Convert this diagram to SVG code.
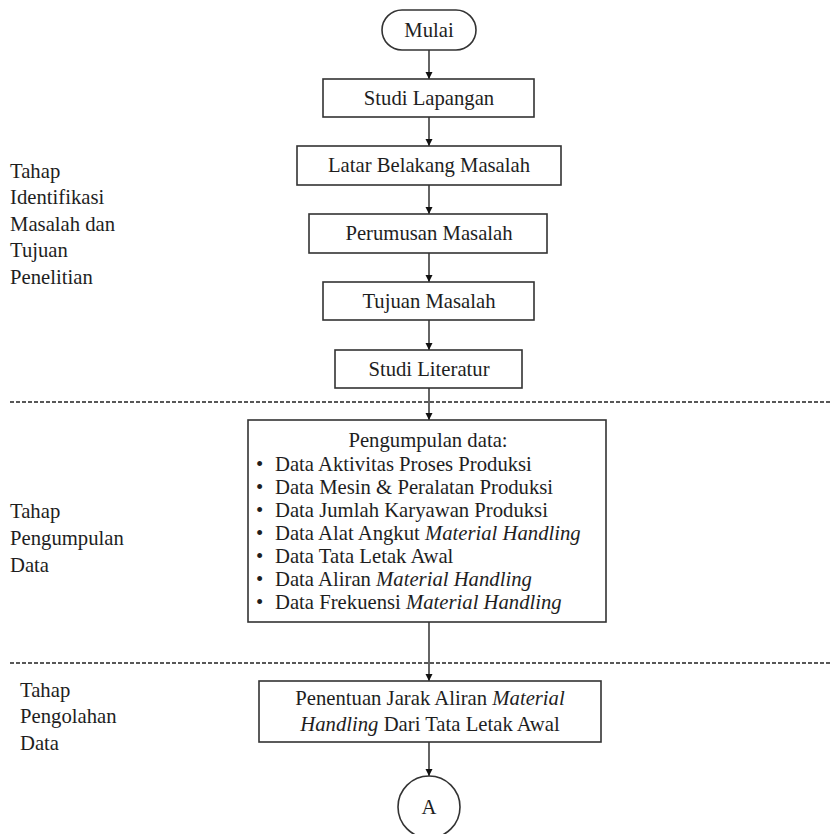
<svg xmlns="http://www.w3.org/2000/svg" width="831" height="834" viewBox="0 0 831 834">
  <style>
    text { font-family: "Liberation Serif", "DejaVu Serif", serif; font-size: 20.7px; fill: #1e1e1e; }
    .c { text-anchor: middle; }
    .it { font-style: italic; }
    .box { fill: #fff; stroke: #333; stroke-width: 1.6; }
    .flow { stroke: #111; stroke-width: 1.3; fill: none; marker-end: url(#arrow); }
    .sep { stroke: #222; stroke-width: 1.3; stroke-dasharray: 4 2; fill: none; }
  </style>
  <defs>
    <marker id="arrow" viewBox="0 0 10 10" refX="10" refY="5" markerWidth="7" markerHeight="8" markerUnits="userSpaceOnUse" orient="auto">
      <path d="M0,0 L10,5 L0,10 Z" fill="#111"/>
    </marker>
  </defs>
  <rect width="831" height="834" fill="#fff"/>

  <!-- stage separators -->
  <g id="separators">
    <line class="sep" x1="10" y1="402" x2="831" y2="402"/>
    <line class="sep" x1="10" y1="663" x2="831" y2="663"/>
  </g>

  <!-- stage labels -->
  <g id="stage-1">
    <text x="10" y="178">Tahap</text>
    <text x="10" y="204">Identifikasi</text>
    <text x="10" y="231">Masalah dan</text>
    <text x="10" y="257">Tujuan</text>
    <text x="10" y="284">Penelitian</text>
  </g>
  <g id="stage-2">
    <text x="10" y="518">Tahap</text>
    <text x="10" y="545">Pengumpulan</text>
    <text x="10" y="572">Data</text>
  </g>
  <g id="stage-3">
    <text x="20" y="697">Tahap</text>
    <text x="20" y="723">Pengolahan</text>
    <text x="20" y="750">Data</text>
  </g>

  <!-- connectors -->
  <g id="connectors">
    <line class="flow" x1="429" y1="50" x2="429" y2="79"/>
    <line class="flow" x1="429" y1="117" x2="429" y2="146"/>
    <line class="flow" x1="429" y1="185" x2="429" y2="214"/>
    <line class="flow" x1="429" y1="253" x2="429" y2="282"/>
    <line class="flow" x1="429" y1="320" x2="429" y2="350"/>
    <line class="flow" x1="429" y1="388" x2="429" y2="420"/>
    <line class="flow" x1="429" y1="622" x2="429" y2="681"/>
    <line class="flow" x1="429" y1="742" x2="429" y2="776"/>
  </g>

  <g id="mulai">
    <rect class="box" x="382" y="10" width="94" height="40" rx="20" ry="20"/>
    <text class="c" x="429" y="37">Mulai</text>
  </g>
  <g id="studi-lapangan">
    <rect class="box" x="323" y="79" width="211" height="38"/>
    <text class="c" x="429" y="105">Studi Lapangan</text>
  </g>
  <g id="latar-belakang">
    <rect class="box" x="297" y="146" width="264" height="39"/>
    <text class="c" x="429" y="172">Latar Belakang Masalah</text>
  </g>
  <g id="perumusan-masalah">
    <rect class="box" x="309" y="214" width="238" height="39"/>
    <text class="c" x="429" y="240">Perumusan Masalah</text>
  </g>
  <g id="tujuan-masalah">
    <rect class="box" x="323" y="282" width="211" height="38"/>
    <text class="c" x="429" y="308">Tujuan Masalah</text>
  </g>
  <g id="studi-literatur">
    <rect class="box" x="335" y="350" width="187" height="38"/>
    <text class="c" x="429" y="376">Studi Literatur</text>
  </g>

  <g id="pengumpulan-data">
    <rect class="box" x="248" y="420" width="358" height="202"/>
    <text class="c" x="428" y="447">Pengumpulan data:</text>
    <g>
      <text x="256" y="471">•</text><text x="275" y="471">Data Aktivitas Proses Produksi</text>
      <text x="256" y="494">•</text><text x="275" y="494">Data Mesin &amp; Peralatan Produksi</text>
      <text x="256" y="517">•</text><text x="275" y="517">Data Jumlah Karyawan Produksi</text>
      <text x="256" y="540">•</text><text x="275" y="540">Data Alat Angkut <tspan class="it">Material Handling</tspan></text>
      <text x="256" y="563">•</text><text x="275" y="563">Data Tata Letak Awal</text>
      <text x="256" y="586">•</text><text x="275" y="586">Data Aliran <tspan class="it">Material Handling</tspan></text>
      <text x="256" y="609">•</text><text x="275" y="609">Data Frekuensi <tspan class="it">Material Handling</tspan></text>
    </g>
  </g>

  <g id="penentuan-jarak">
    <rect class="box" x="259" y="681" width="342" height="61"/>
    <text class="c" x="430" y="705">Penentuan Jarak Aliran <tspan class="it">Material</tspan></text>
    <text class="c" x="430" y="731"><tspan class="it">Handling</tspan> Dari Tata Letak Awal</text>
  </g>

  <g id="konektor-a">
    <circle cx="429" cy="807" r="31" fill="#fff" stroke="#333" stroke-width="1.6"/>
    <text class="c" x="429" y="814">A</text>
  </g>
</svg>
